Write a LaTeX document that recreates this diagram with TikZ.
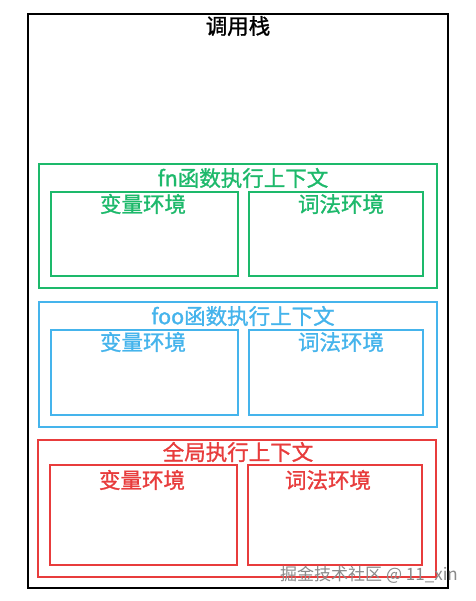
\documentclass[tikz,border=0pt]{standalone}
\usepackage{fontspec}
\setmainfont{Noto Sans CJK SC}
\newfontfamily\medfont{Noto Sans CJK SC}[FakeBold=1.2]
\definecolor{cgreen}{HTML}{1DB96B}
\definecolor{cblue}{HTML}{45B4EC}
\definecolor{cred}{HTML}{E83C3C}
\definecolor{cwm}{HTML}{8A8A8A}
\tikzset{
  box/.style={draw, line width=2pt},
  lbl/.style={font=\medfont\fontsize{21.5}{23}\selectfont, inner sep=0pt},
}
\begin{document}
\begin{tikzpicture}[x=1pt,y=-1pt]
\useasboundingbox (0,0) rectangle (475,601);
\fill[white] (0,0) rectangle (475,601);
% outer stack
\draw[box, line width=2.2pt, black] (28,14) rectangle (448,588);
\node[lbl, black] (title) at (238,26) {调用栈};
% fn context
\draw[box, cgreen] (39,164) rectangle (437,288);
\node[lbl, cgreen] (fnl) at (243,178) {fn函数执行上下文};
\draw[box, cgreen] (51,192) rectangle (238,276);
\node[lbl, cgreen] (fnv) at (143,204) {变量环境};
\draw[box, cgreen] (249,192) rectangle (423,276);
\node[lbl, cgreen] (fnx) at (341,204) {词法环境};
% foo context
\draw[box, cblue] (39,302) rectangle (437,427);
\node[lbl, cblue] (fool) at (243,316) {foo函数执行上下文};
\draw[box, cblue] (51,330) rectangle (238,415);
\node[lbl, cblue] (foov) at (143,342) {变量环境};
\draw[box, cblue] (249,330) rectangle (423,415);
\node[lbl, cblue] (foox) at (341,342) {词法环境};
% global context
\draw[box, cred] (38,440) rectangle (436,577);
\node[lbl, cred] (gl) at (238,452) {全局执行上下文};
\draw[box, cred] (50,465) rectangle (237,565);
\node[lbl, cred] (gv) at (142,480) {变量环境};
\draw[box, cred] (248,465) rectangle (422,565);
\node[lbl, cred] (gx) at (328,480) {词法环境};
% watermark
\node[font=\fontsize{17}{19}\selectfont, text=cwm, inner sep=0pt, anchor=east] (wm) at (458,575) {掘金技术社区 @ 11\_xin};
\end{tikzpicture}
\end{document}
